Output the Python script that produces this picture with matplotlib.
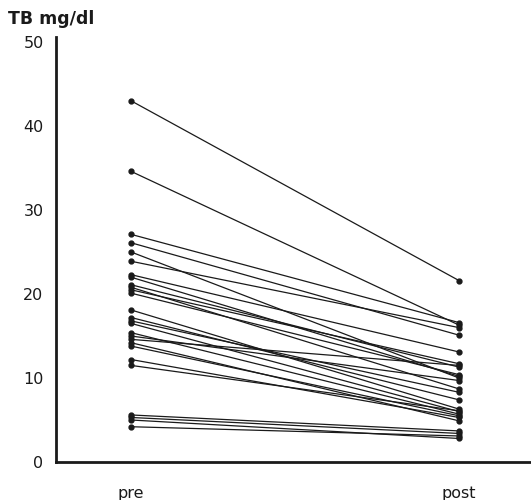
import matplotlib
matplotlib.use("Agg")
import matplotlib.pyplot as plt

# TB mg/dl before and after, one line per patient
pre = [43.0, 34.6, 27.1, 26.1, 25.0, 23.9, 22.3, 22.0, 21.1, 20.8, 20.5, 20.1,
       18.1, 17.2, 16.8, 16.5, 15.4, 15.0, 14.6, 14.2, 13.8, 12.2, 11.5,
       5.6, 5.3, 5.0, 4.2]
post = [21.6, 16.3, 16.6, 15.1, 10.0, 16.0, 13.1, 10.2, 11.3, 8.7, 11.7, 10.4,
        6.3, 7.4, 8.3, 6.0, 5.7, 9.7, 11.5, 4.9, 5.5, 5.3, 6.1,
        3.7, 3.4, 2.8, 3.1]
x_labels = ["pre", "post"]
y_ticks = [0, 10, 20, 30, 40, 50]

fig = plt.figure(figsize=(5.31, 5.0), dpi=100)
ax = fig.add_axes([0.1055, 0.076, 0.8945, 0.85])

for a, b in zip(pre, post):
    ax.plot([0, 1], [a, b], color="#1a1a1a", lw=0.9, marker="o", ms=3.5,
            mfc="#1a1a1a", mec="#1a1a1a")

ax.set_xlim(-0.229, 1.2195)
ax.set_ylim(0, 50.6)
ax.set_xticks([0, 1])
ax.set_xticklabels(x_labels)
ax.set_yticks(y_ticks)
ax.tick_params(length=0, labelsize=11.5, colors="#1a1a1a")
ax.tick_params(axis="y", pad=9)
ax.tick_params(axis="x", pad=17)

for s in ["top", "right"]:
    ax.spines[s].set_visible(False)
for s in ["left", "bottom"]:
    ax.spines[s].set_linewidth(2)
    ax.spines[s].set_color("#1a1a1a")

fig.text(8 / 531, 1 - 19 / 500, "TB mg/dl", fontsize=12.5, fontweight="bold",
         va="center", color="#1a1a1a")

fig.savefig("out.png", dpi=100)
